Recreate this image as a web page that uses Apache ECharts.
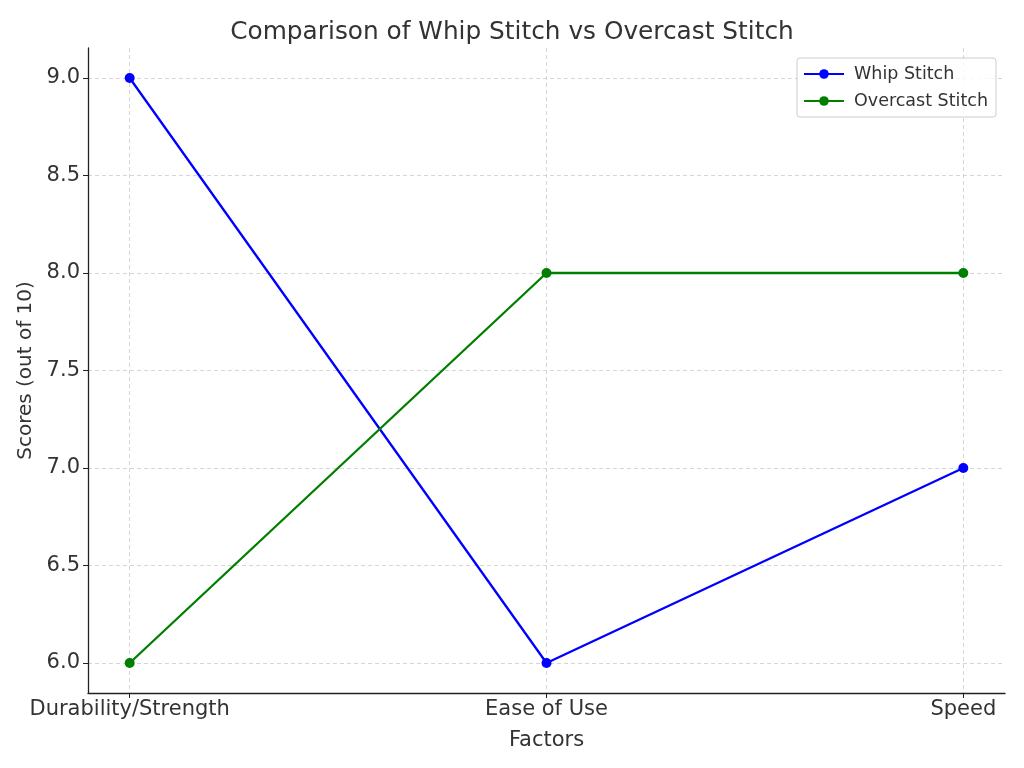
<!DOCTYPE html>
<html>
<head>
<meta charset="utf-8">
<script src="https://cdn.jsdelivr.net/npm/echarts@6/dist/echarts.min.js"></script>
<style>
  html, body { margin: 0; padding: 0; background: #fff; }
  #chart { width: 1024px; height: 768px; }
</style>
</head>
<body>
<div id="chart"></div>
<script>
// categories and scores
const factors = ['Durability/Strength', 'Ease of Use', 'Speed'];
const whipStitch = [9, 6, 7];
const overcastStitch = [6, 8, 8];
const yTicks = [6.0, 6.5, 7.0, 7.5, 8.0, 8.5, 9.0];

const font = 'DejaVu Sans';
const chart = echarts.init(document.getElementById('chart'));

const toPoints = arr => arr.map((v, i) => [i, v]);

const option = {
    animation: false,
    backgroundColor: '#fff',
    title: {
        text: 'Comparison of Whip Stitch vs Overcast Stitch',
        left: 'center',
        top: 15,
        textStyle: { fontFamily: font, fontSize: 24.8, fontWeight: 'normal', color: '#333' }
    },
    grid: { left: 88, right: 19, top: 48, bottom: 75 },
    legend: {
        orient: 'vertical',
        right: 28,
        top: 58,
        padding: [7, 8, 7, 6],
        itemGap: 9,
        itemWidth: 40,
        itemHeight: 12,
        borderColor: '#ccc',
        borderWidth: 1,
        borderRadius: 3,
        backgroundColor: 'rgba(255,255,255,0.8)',
        textStyle: { fontFamily: font, fontSize: 17.5, color: '#333', padding: [0, 0, 0, 5] },
        data: ['Whip Stitch', 'Overcast Stitch']
    },
    xAxis: {
        type: 'value',
        min: -0.1,
        max: 2.1,
        name: 'Factors',
        nameLocation: 'middle',
        nameGap: 37,
        nameTextStyle: { fontFamily: font, fontSize: 21, color: '#333' },
        axisLine: { show: true, onZero: false, lineStyle: { color: '#222', width: 1.3 } },
        axisTick: { show: true, customValues: [0, 1, 2], length: 5, lineStyle: { color: '#222' } },
        axisLabel: {
            customValues: [0, 1, 2],
            margin: 6,
            fontFamily: font, fontSize: 21, color: '#333',
            formatter: v => factors[Math.round(v)]
        },
        splitLine: { show: true, lineStyle: { color: '#ccc', type: [4, 3], width: 0.8 } }
    },
    yAxis: {
        type: 'value',
        min: 6 - 30 / 195,
        max: 9 + 30 / 195,
        name: 'Scores (out of 10)',
        nameLocation: 'middle',
        nameGap: 50,
        nameTextStyle: { fontFamily: font, fontSize: 20, color: '#333' },
        axisLine: { show: true, onZero: false, lineStyle: { color: '#222', width: 1.3 } },
        axisTick: { show: true, customValues: yTicks, length: 5, lineStyle: { color: '#222' } },
        axisLabel: {
            customValues: yTicks,
            margin: 8,
            fontFamily: font, fontSize: 21, color: '#333',
            formatter: v => v.toFixed(1)
        },
        splitLine: { show: true, lineStyle: { color: '#ccc', type: [4, 3], width: 0.8 } }
    },
    series: [
        {
            name: 'Whip Stitch',
            type: 'line',
            data: toPoints(whipStitch),
            symbol: 'circle',
            symbolSize: 10,
            color: '#0000ff',
            lineStyle: { width: 2.3, color: '#0000ff' },
            itemStyle: { color: '#0000ff' }
        },
        {
            name: 'Overcast Stitch',
            type: 'line',
            data: toPoints(overcastStitch),
            symbol: 'circle',
            symbolSize: 10,
            color: '#008000',
            lineStyle: { width: 2.3, color: '#008000' },
            itemStyle: { color: '#008000' }
        }
    ]
};

chart.setOption(option);
</script>
</body>
</html>
